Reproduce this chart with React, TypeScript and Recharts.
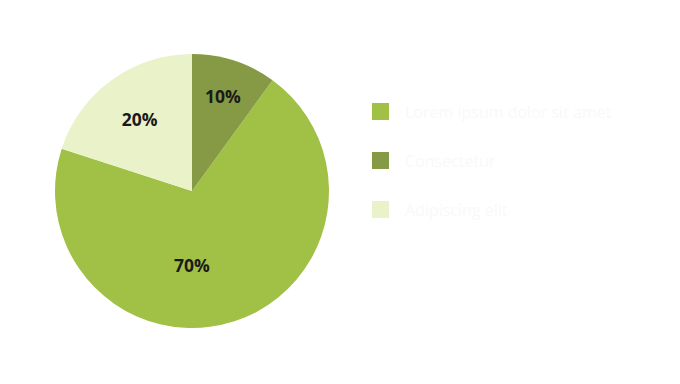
import React from 'react';
import { PieChart, Pie, Cell, Legend } from 'recharts';

const names = ['Lorem ipsum dolor sit amet', 'Consectetur', 'Adipiscing elit'];
const values = [70, 10, 20];
const COLORS = ['#a1c146', '#869a45', '#eaf2c9'];

const data = names.map((name, i) => ({ name, value: values[i] }));

// label placement tweaks per slice (radius fraction, angle shift in degrees)
const LABEL_RADIUS = [0.54, 0.73, 0.65];
const LABEL_SHIFT = [-18, 0, 0];

const RADIAN = Math.PI / 180;

const renderLabel = (props: any) => {
  const { cx, cy, midAngle, outerRadius, index, percent } = props;
  const r = outerRadius * LABEL_RADIUS[index];
  const a = (midAngle + LABEL_SHIFT[index]) * RADIAN;
  const x = cx + r * Math.cos(a);
  const y = cy - r * Math.sin(a);
  return (
    <text
      x={x}
      y={y}
      textAnchor="middle"
      dominantBaseline="central"
      fill="#1a1a1a"
      fontFamily="'Open Sans', sans-serif"
      fontWeight={700}
      fontSize={17.5}
    >
      {`${Math.round(percent * 100)}%`}
    </text>
  );
};

const renderLegend = () => (
  <div style={{ fontFamily: "'Open Sans', sans-serif" }}>
    {data.map((d, i) => (
      <div key={d.name} style={{ display: 'flex', alignItems: 'center', height: 49 }}>
        <span style={{ width: 17, height: 17, background: COLORS[i], display: 'inline-block' }} />
        <span style={{ marginLeft: 16, fontSize: 16, color: '#f9f9f9' }}>{d.name}</span>
      </div>
    ))}
  </div>
);

export default function App() {
  return (
    <div style={{ position: 'absolute', left: 0, top: 0, width: 680, height: 384, background: '#fff' }}>
      <PieChart width={680} height={384} margin={{ top: 0, right: 0, bottom: 0, left: 0 }}>
        <Pie
          data={data}
          dataKey="value"
          nameKey="name"
          cx={192}
          cy={191}
          outerRadius={137}
          startAngle={162}
          endAngle={522}
          stroke="none"
          labelLine={false}
          label={renderLabel}
          isAnimationActive={false}
        >
          {data.map((d, i) => (
            <Cell key={d.name} fill={COLORS[i]} />
          ))}
        </Pie>
        <Legend
          layout="vertical"
          content={renderLegend}
          wrapperStyle={{ left: 372, top: 87, width: 300 }}
        />
      </PieChart>
    </div>
  );
}
